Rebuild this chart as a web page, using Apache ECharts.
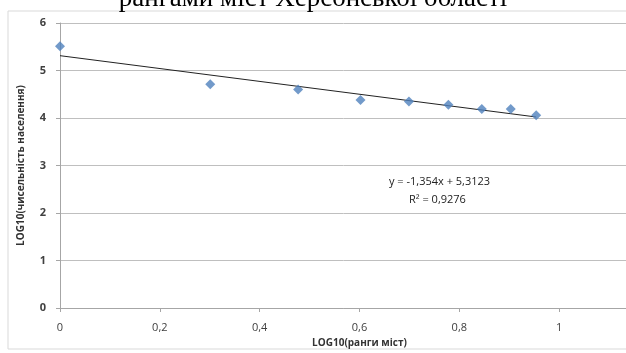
<!DOCTYPE html>
<html>
<head>
<meta charset="utf-8">
<script src="https://cdn.jsdelivr.net/npm/echarts@6/dist/echarts.min.js"></script>
<style>
  html, body { margin: 0; padding: 0; background: #fff; }
  #chart { width: 626px; height: 353px; }
</style>
</head>
<body>
<div id="chart"></div>
<script>
// log10 of city rank and log10 of population
const rankLog = [0, 0.301, 0.477, 0.602, 0.699, 0.778, 0.845, 0.903, 0.954];
const popLog = [5.51, 4.71, 4.60, 4.38, 4.35, 4.28, 4.19, 4.19, 4.06];

// trend line ends (y = -1,354x + 5,3123)
const trendX = [0, 0.954];
const trendY = [5.312, 4.021];

const xTicks = [0, 0.2, 0.4, 0.6, 0.8, 1, 1.2];
const yTicks = [0, 1, 2, 3, 4, 5, 6];

const labelFont = 'Open Sans';

let myChart = echarts.init(document.getElementById('chart'));

let option = {
    animation: false,
    backgroundColor: '#fff',
    title: {
        text: 'рангами міст Херсонської області',
        left: 'center',
        top: -15,
        padding: 0,
        textStyle: {
            fontFamily: 'Liberation Serif',
            fontSize: 27,
            fontWeight: 'normal',
            color: '#000'
        }
    },
    graphic: [
        {
            // chart area border
            type: 'rect',
            shape: {x: 8, y: 11, width: 660, height: 338},
            style: {fill: 'none', stroke: '#d9d9d9', lineWidth: 1},
            z: -1
        },
        {
            type: 'text',
            left: 389,
            top: 176,
            style: {
                text: 'y = -1,354x + 5,3123',
                fontFamily: labelFont,
                fontSize: 11,
                fill: '#222'
            }
        },
        {
            type: 'text',
            left: 409,
            top: 194,
            style: {
                text: 'R² = 0,9276',
                fontFamily: labelFont,
                fontSize: 11,
                fill: '#222'
            }
        }
    ],
    grid: {
        left: 60,
        top: 23,
        width: 599,
        height: 285,
        containLabel: false,
        outerBoundsMode: 'none'
    },
    xAxis: {
        type: 'value',
        min: xTicks[0],
        max: xTicks[xTicks.length - 1],
        interval: 0.2,
        name: 'LOG10(ранги міст)',
        nameLocation: 'middle',
        nameGap: 26,
        nameTextStyle: {
            fontFamily: labelFont,
            fontSize: 10,
            fontWeight: 'bold',
            color: '#333'
        },
        axisLine: {lineStyle: {color: '#a6a6a6'}},
        axisTick: {show: true, length: 4, lineStyle: {color: '#a6a6a6'}},
        splitLine: {show: false},
        axisLabel: {
            margin: 14,
            fontFamily: labelFont,
            fontSize: 11,
            color: '#404040',
            formatter: v => String(Math.round(v * 10) / 10).replace('.', ',')
        }
    },
    yAxis: {
        type: 'value',
        min: yTicks[0],
        max: yTicks[yTicks.length - 1],
        interval: 1,
        name: 'LOG10(чисельність населення)',
        nameLocation: 'middle',
        nameGap: 34,
        nameTextStyle: {
            fontFamily: labelFont,
            fontSize: 10,
            fontWeight: 'bold',
            color: '#333'
        },
        axisLine: {show: true, lineStyle: {color: '#a6a6a6'}},
        axisTick: {show: true, length: 4, lineStyle: {color: '#a6a6a6'}},
        splitLine: {lineStyle: {color: '#bfbfbf', width: 1}},
        axisLabel: {
            margin: 14,
            fontFamily: labelFont,
            fontSize: 11,
            fontWeight: 'bold',
            color: '#404040'
        }
    },
    series: [
        {
            name: 'trend',
            type: 'line',
            data: trendX.map((x, i) => [x, trendY[i]]),
            symbol: 'none',
            lineStyle: {color: '#222', width: 1},
            z: 2
        },
        {
            name: 'cities',
            type: 'scatter',
            data: rankLog.map((x, i) => [x, popLog[i]]),
            symbol: 'diamond',
            symbolSize: [10, 10],
            itemStyle: {color: '#4f81bd'},
            z: 3
        }
    ]
};

myChart.setOption(option);
</script>
</body>
</html>
